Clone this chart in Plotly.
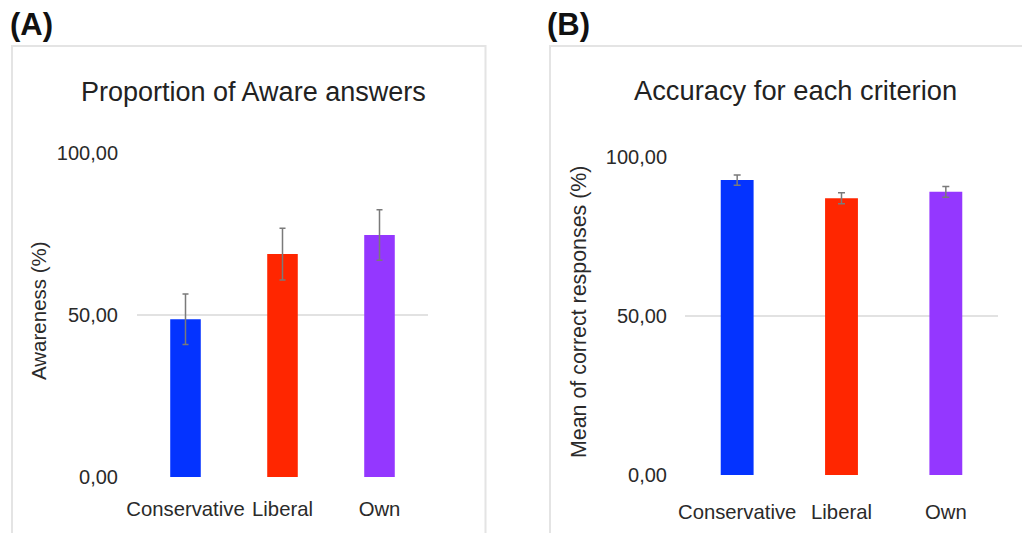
import plotly.graph_objects as go

W, H = 1022, 533

categories = ["Conservative", "Liberal", "Own"]
bar_colors = ["#0433FF", "#FF2600", "#9437FF"]

# (A) proportion of aware answers, mean and error
aware_pct = [48.7, 68.8, 74.7]
aware_err = [7.8, 8.0, 7.8]

# (B) accuracy for each criterion, mean and error
accuracy_pct = [92.6, 86.9, 88.9]
accuracy_err = [1.6, 1.7, 1.7]

y_ticks = [0, 50, 100]
y_tick_text = ["0,00", "50,00", "100,00"]

FONT = "Liberation Sans, Arial, Helvetica, sans-serif"
GRID = "#e2e2e2"


def px_x(p):
    return p / W


def px_y(p):
    return 1 - p / H


fig = go.Figure()

fig.add_trace(go.Bar(
    x=categories, y=aware_pct, marker=dict(color=bar_colors, line=dict(width=0)),
    error_y=dict(type="data", array=aware_err, color="#7a7a7a", thickness=1.5, width=3),
    xaxis="x", yaxis="y", showlegend=False,
))
fig.add_trace(go.Bar(
    x=categories, y=accuracy_pct, marker=dict(color=bar_colors, line=dict(width=0)),
    error_y=dict(type="data", array=accuracy_err, color="#7a7a7a", thickness=1.5, width=3.5),
    xaxis="x2", yaxis="y2", showlegend=False,
))

common_x = dict(showgrid=False, zeroline=False, showline=False, ticks="", automargin=False,
                tickfont=dict(family=FONT, size=20.3, color="#2a2a2a"))
common_y = dict(range=[0, 100], tickvals=y_ticks, ticktext=y_tick_text, automargin=False,
                showgrid=True, gridcolor=GRID, gridwidth=1.5, zeroline=False,
                showline=False, ticks="",
                tickfont=dict(family=FONT, size=20, color="#2a2a2a"))

fig.update_layout(
    width=W, height=H, margin=dict(l=0, r=0, t=0, b=0, autoexpand=False),
    paper_bgcolor="white", plot_bgcolor="white",
    bargap=0.685,
    xaxis=dict(domain=[px_x(137), px_x(428)], anchor="y", ticklabelstandoff=18, **common_x),
    yaxis=dict(domain=[px_y(477), px_y(153)], anchor="x", ticklabelstandoff=18, **common_y),
    xaxis2=dict(domain=[px_x(685), px_x(998)], anchor="y2", ticklabelstandoff=23, **common_x),
    yaxis2=dict(domain=[px_y(475), px_y(156.5)], anchor="x2", ticklabelstandoff=17, **common_y),
)

# panel frames
for x0, x1 in [(12, 485.5), (550, 1040)]:
    fig.add_shape(type="rect", xref="paper", yref="paper",
                  x0=px_x(x0), x1=px_x(x1), y0=px_y(560), y1=px_y(46),
                  line=dict(color="#e4e4e4", width=2), fillcolor="rgba(0,0,0,0)",
                  layer="below")

annotations = [
    dict(text="<b>(A)</b>", x=px_x(8), y=px_y(25), xanchor="left", yanchor="middle",
         font=dict(family=FONT, size=31, color="#111111")),
    dict(text="<b>(B)</b>", x=px_x(545), y=px_y(25), xanchor="left", yanchor="middle",
         font=dict(family=FONT, size=31, color="#111111")),
    dict(text="Proportion of Aware answers", x=px_x(253), y=px_y(92), xanchor="center",
         yanchor="middle", font=dict(family=FONT, size=27, color="#222222")),
    dict(text="Accuracy for each criterion", x=px_x(795), y=px_y(90), xanchor="center",
         yanchor="middle", font=dict(family=FONT, size=27.3, color="#222222")),
    dict(text="Awareness (%)", x=px_x(38), y=px_y(311), xanchor="center", yanchor="middle",
         textangle=-90, font=dict(family=FONT, size=20.5, color="#2a2a2a")),
    dict(text="Mean of correct responses (%)", x=px_x(579), y=px_y(312), xanchor="center",
         yanchor="middle", textangle=-90, font=dict(family=FONT, size=21.4, color="#2a2a2a")),
]
for a in annotations:
    fig.add_annotation(xref="paper", yref="paper", showarrow=False, **a)

fig.write_html("out.html")
